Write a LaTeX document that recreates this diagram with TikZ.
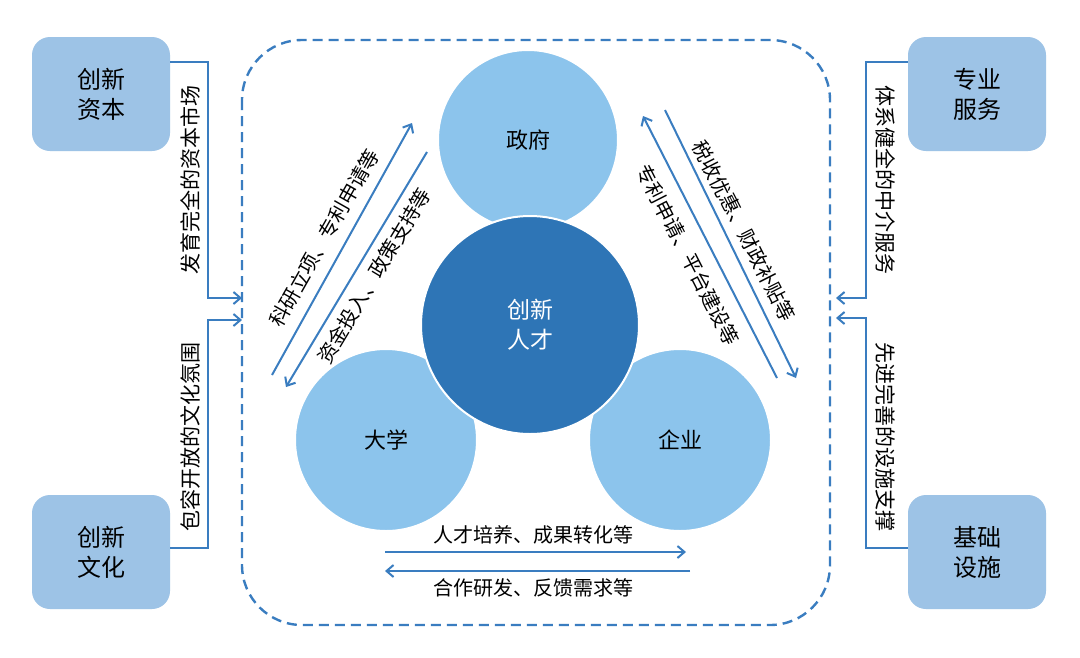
\documentclass[tikz,border=0pt]{standalone}
\usepackage{fontspec}
\setmainfont{Noto Sans CJK SC}
\usetikzlibrary{arrows.meta}
\definecolor{boxc}{HTML}{9DC3E6}
\definecolor{lightc}{HTML}{8CC4EC}
\definecolor{darkc}{HTML}{2E75B6}
\definecolor{linec}{HTML}{3A7DC0}
\tikzset{
 sidebox/.style={fill=boxc,rounded corners=18pt,minimum width=138pt,minimum height=114pt,align=center,font=\fontsize{24}{30}\selectfont,inner sep=0},
 ring/.style={circle,fill=lightc,draw=white,line width=2pt,font=\fontsize{22}{26}\selectfont,inner sep=0},
 lab/.style={font=\fontsize{20}{24}\selectfont,inner sep=1pt},
 vlab/.style={font=\fontsize{21}{24}\selectfont,inner sep=0},
 conn/.style={draw=linec,line width=2pt},
 arr/.style={conn,-{Straight Barb[length=7pt,width=12pt,line width=2pt]}},
}
\begin{document}
\begin{tikzpicture}[x=1pt,y=-1pt]
\useasboundingbox (0,0) rectangle (1080,657);
\fill[white] (0,0) rectangle (1080,657);
% boxes
\node[sidebox] (cz) at (101,94) {创新\\资本};
\node[sidebox] (wh) at (101,552) {创新\\文化};
\node[sidebox] (fw) at (977,94) {专业\\服务};
\node[sidebox] (ss) at (977,552) {基础\\设施};
% dashed frame
\draw[draw=linec,line width=2.4pt,dash pattern=on 10pt off 6pt,rounded corners=60pt] (242,40) rectangle (830,625);
% left brackets
\coordinate (la1) at (242,298);
\coordinate (la2) at (242,320);
\draw[arr] (cz.east |- 0,62) -- (208,62) -- (208,298) -- (la1);
\draw[arr] (wh.east |- 0,548) -- (208,548) -- (208,320) -- (la2);
\node[vlab,rotate=90] (t1) at (190,180) {发育完全的资本市场};
\node[vlab,rotate=90] (t2) at (190,437) {包容开放的文化氛围};
% right brackets
\coordinate (ra1) at (836,298);
\coordinate (ra2) at (836,318);
\draw[arr] (fw.west |- 0,62) -- (866,62) -- (866,298) -- (ra1);
\draw[arr] (ss.west |- 0,548) -- (866,548) -- (866,318) -- (ra2);
\node[vlab,rotate=-90] (t3) at (886,180) {体系健全的中介服务};
\node[vlab,rotate=-90] (t4) at (886,437) {先进完善的设施支撑};
% circles
\node[ring,minimum size=180pt] (zf) at (528,140) {政府};
\node[ring,minimum size=182pt] (dx) at (386,440) {大学};
\node[ring,minimum size=182pt] (qy) at (680,440) {企业};
\node[circle,fill=darkc,draw=white,line width=2pt,minimum size=218pt,align=center,text=white,font=\fontsize{23}{30}\selectfont] (rc) at (530,325) {创新\\人才};
% left diagonal arrows
\coordinate (a1s) at (272,375); \coordinate (a1e) at (412,123);
\coordinate (a2s) at (427,152); \coordinate (a2e) at (286,387);
\draw[arr] (a1s) -- (a1e);
\draw[arr] (a2s) -- (a2e);
\node[lab,rotate=60.5] (l1) at (324,238) {科研立项、专利申请等};
\node[lab,rotate=59] (l2) at (374,276) {资金投入、政策支持等};
% right diagonal arrows
\coordinate (b1s) at (665,110); \coordinate (b1e) at (796,378);
\coordinate (b2s) at (777,378); \coordinate (b2e) at (643,116);
\draw[arr] (b1s) -- (b1e);
\draw[arr] (b2s) -- (b2e);
\node[lab,rotate=-63] (l3) at (744,231) {税收优惠、财政补贴等};
\node[lab,rotate=-63] (l4) at (688,255) {专利申请、平台建设等};
% bottom arrows
\coordinate (c1s) at (385,552); \coordinate (c1e) at (686,552);
\coordinate (c2s) at (690,571); \coordinate (c2e) at (385,571);
\draw[arr] (c1s) -- (c1e);
\draw[arr] (c2s) -- (c2e);
\node[lab] (l5) at (533,535) {人才培养、成果转化等};
\node[lab] (l6) at (533,588) {合作研发、反馈需求等};
\end{tikzpicture}
\end{document}
